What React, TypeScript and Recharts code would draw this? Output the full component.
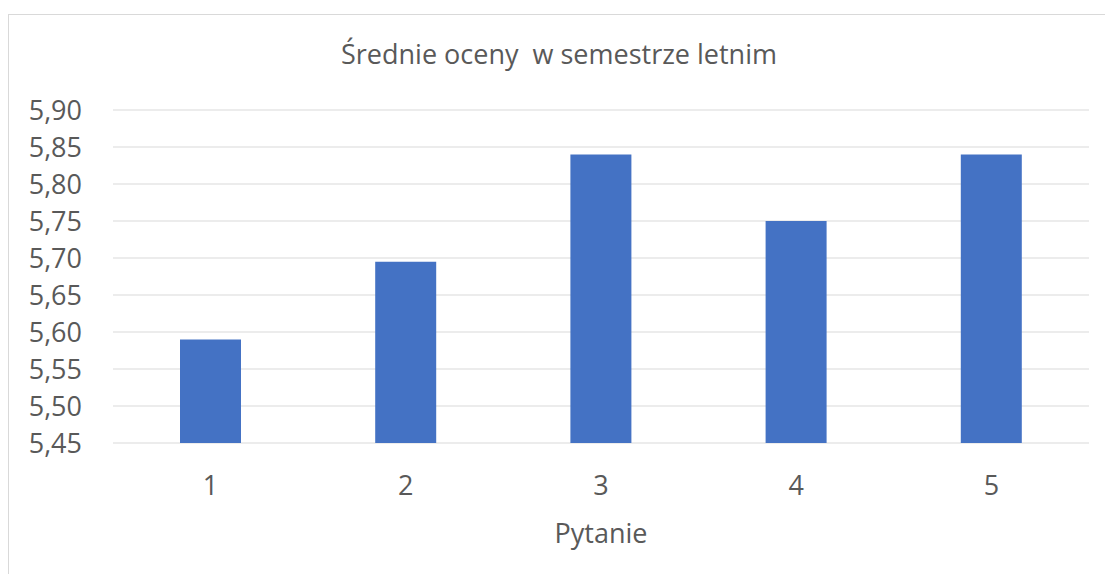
import React from 'react';
import { BarChart, Bar, XAxis, YAxis, CartesianGrid } from 'recharts';

const categories = ['1', '2', '3', '4', '5'];
const values = [5.59, 5.695, 5.84, 5.75, 5.84];
const yTicks = [5.45, 5.5, 5.55, 5.6, 5.65, 5.7, 5.75, 5.8, 5.85, 5.9];
const title = 'Średnie oceny  w semestrze letnim';
const xTitle = 'Pytanie';

const data = categories.map((c, i) => ({ name: c, value: values[i] }));

const FONT = '"Open Sans", sans-serif';
const TEXT = '#595959';

export default function App() {
  return (
    <div style={{ position: 'fixed', left: 0, top: 0, width: 1105, height: 574, overflow: 'hidden', background: '#fff' }}>
      <div style={{ position: 'absolute', left: 8, top: 14, width: 1200, height: 700, borderLeft: '1px solid #d9d9d9', borderTop: '1px solid #d9d9d9' }} />
      <div style={{ position: 'absolute', left: 0, top: 36, width: 1118, textAlign: 'center', fontFamily: FONT, fontSize: 27, color: TEXT, whiteSpace: 'pre', lineHeight: '36px' }}>
        {title}
      </div>
      <div style={{ position: 'absolute', left: 0, top: 0 }}>
        <BarChart width={1105} height={574} data={data} margin={{ top: 110, right: 16, bottom: 31, left: 0 }}>
          <CartesianGrid horizontal vertical={false} stroke="#d9d9d9" strokeWidth={1} />
          <XAxis
            dataKey="name"
            axisLine={false}
            tickLine={false}
            tickSize={0}
            tickMargin={33}
            height={100}
            tick={{ fill: TEXT, fontSize: 27, fontFamily: FONT }}
            label={{ value: xTitle, position: 'insideBottom', offset: 0, fill: TEXT, fontSize: 27, fontFamily: FONT }}
          />
          <YAxis
            domain={[5.45, 5.9]}
            ticks={yTicks}
            interval={0}
            axisLine={false}
            tickLine={false}
            tickSize={0}
            tickMargin={31}
            width={113}
            allowDataOverflow
            tick={{ fill: TEXT, fontSize: 27, fontFamily: FONT }}
            tickFormatter={(v: number) => v.toFixed(2).replace('.', ',')}
          />
          <Bar dataKey="value" fill="#4472C4" barSize={61} isAnimationActive={false} />
        </BarChart>
      </div>
    </div>
  );
}
